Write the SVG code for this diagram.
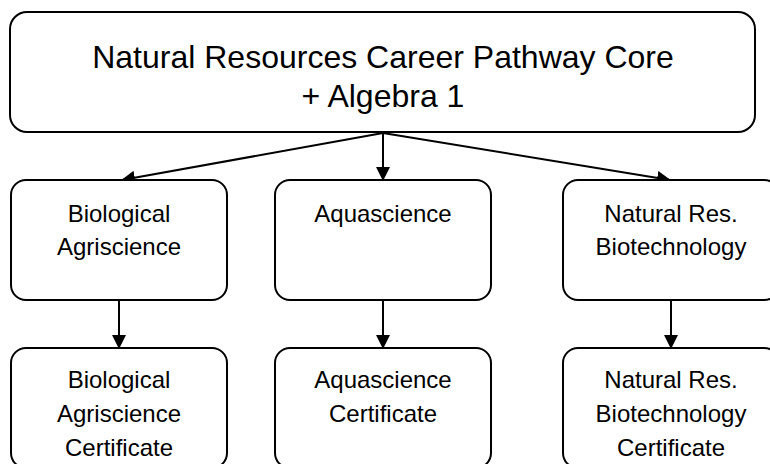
<svg xmlns="http://www.w3.org/2000/svg" width="770" height="464" viewBox="0 0 770 464">
<defs>
<style>
.box{fill:#fff;stroke:#000;stroke-width:2}
.t{font-family:"Liberation Sans",Arial,sans-serif;font-size:24px;fill:#000;text-anchor:middle}
.tt{font-family:"Liberation Sans",Arial,sans-serif;font-size:32px;fill:#000;text-anchor:middle}
.c{stroke:#000;stroke-width:2;fill:none;marker-end:url(#ah)}
</style>
<marker id="ah" markerUnits="userSpaceOnUse" markerWidth="14" markerHeight="14" refX="13" refY="7" orient="auto" viewBox="0 0 14 14">
<path d="M0,0 L14,7 L0,14 z" fill="#000"/>
</marker>
</defs>
<rect width="770" height="464" fill="#fff"/>
<g id="connectors">
<line class="c" x1="383" y1="133" x2="122" y2="180"/>
<line class="c" x1="383" y1="133" x2="383" y2="180"/>
<line class="c" x1="383" y1="133" x2="670" y2="180"/>
<line class="c" x1="119" y1="300" x2="119" y2="348"/>
<line class="c" x1="383" y1="300" x2="383" y2="348"/>
<line class="c" x1="671" y1="300" x2="671" y2="348"/>
</g>
<g id="core">
<rect class="box" x="10" y="12" width="745" height="120" rx="17"/>
<text class="tt" x="383" y="68">Natural Resources Career Pathway Core</text>
<text class="tt" x="383" y="107">+ Algebra 1</text>
</g>
<g id="bio">
<rect class="box" x="11" y="180" width="216" height="120" rx="15"/>
<text class="t" x="119" y="222">Biological</text>
<text class="t" x="119" y="255">Agriscience</text>
</g>
<g id="aqua">
<rect class="box" x="275" y="180" width="216" height="120" rx="15"/>
<text class="t" x="383" y="222">Aquascience</text>
</g>
<g id="nat">
<rect class="box" x="563" y="180" width="216" height="120" rx="15"/>
<text class="t" x="671" y="222">Natural Res.</text>
<text class="t" x="671" y="255">Biotechnology</text>
</g>
<g id="bio-cert">
<rect class="box" x="11" y="348" width="216" height="120" rx="15"/>
<text class="t" x="119" y="388">Biological</text>
<text class="t" x="119" y="422">Agriscience</text>
<text class="t" x="119" y="456">Certificate</text>
</g>
<g id="aqua-cert">
<rect class="box" x="275" y="348" width="216" height="120" rx="15"/>
<text class="t" x="383" y="388">Aquascience</text>
<text class="t" x="383" y="422">Certificate</text>
</g>
<g id="nat-cert">
<rect class="box" x="563" y="348" width="216" height="120" rx="15"/>
<text class="t" x="671" y="388">Natural Res.</text>
<text class="t" x="671" y="422">Biotechnology</text>
<text class="t" x="671" y="456">Certificate</text>
</g>
</svg>
